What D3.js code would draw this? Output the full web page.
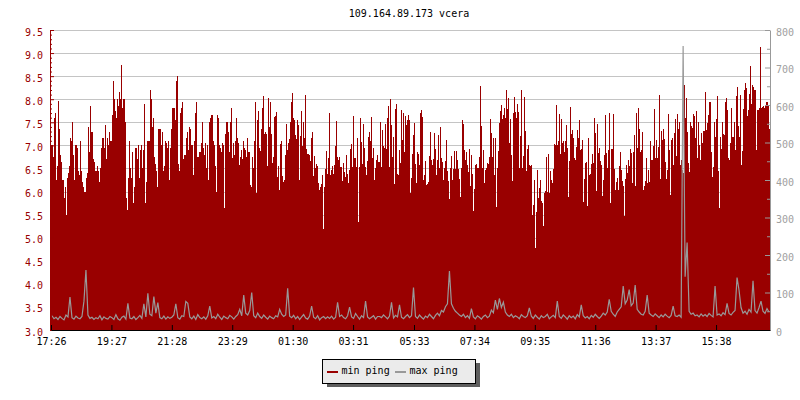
<!DOCTYPE html>
<html>
<head>
<meta charset="utf-8">
<script src="https://cdn.jsdelivr.net/npm/d3@7"></script>
<style>
  html, body { margin: 0; padding: 0; background: #fff; }
  svg { display: block; }
  text { font-family: "DejaVu Sans Mono", monospace; font-size: 10px; }
</style>
</head>
<body>
<svg id="chart" width="800" height="400"></svg>
<script>
const title = "109.164.89.173 vcera";
const seriesNames = ["min ping", "max ping"];
const timeLabels = ["17:26","19:27","21:28","23:29","01:30","03:31","05:33","07:34","09:35","11:36","13:37","15:38"];
const leftTicks = [3.0,3.5,4.0,4.5,5.0,5.5,6.0,6.5,7.0,7.5,8.0,8.5,9.0,9.5];
const rightTicks = [0,100,200,300,400,500,600,700,800];

// min ping (left axis), one value per 2 minutes from 17:26
const minPing = [
7.0,7.0,6.75,7.6,7.7,6.25,6.55,7.97,7.35,6.8,6.65,6.25,6.25,5.85,6.1,5.5,6.3,6.4,6.55,7.15,
7.1,7.5,6.8,6.25,7.0,7.0,6.95,6.45,6.35,7.1,6.45,6.2,6.1,6.0,6.0,6.3,6.4,7.4,6.85,7.85,
7.3,7.3,6.7,6.65,6.45,6.45,6.55,6.45,6.2,6.5,6.95,7.15,7.15,6.95,7.45,6.7,7.15,7.0,7.3,7.1,
7.1,7.65,8.4,8.0,7.75,7.6,8.0,7.85,8.15,8.0,8.75,7.8,8.0,8.0,7.5,5.85,5.6,6.3,7.1,6.5,
6.3,6.85,5.75,6.1,6.95,6.95,6.7,7.0,6.3,6.9,7.0,6.5,6.9,7.9,5.75,6.2,7.1,7.1,7.1,8.2,
8.0,7.4,7.6,6.75,6.6,6.45,6.1,7.35,7.35,7.35,7.0,7.3,6.45,6.55,7.1,7.05,6.95,7.1,6.25,6.95,
7.35,7.8,7.8,7.8,7.55,8.4,8.5,6.6,6.45,7.7,7.8,7.95,6.7,6.8,6.8,7.15,7.3,6.9,7.4,7.35,
7.0,7.0,6.35,7.1,7.7,7.95,6.75,6.75,6.85,6.85,7.05,7.5,6.95,6.8,7.05,6.5,7.0,6.25,7.5,7.6,
7.65,7.65,7.1,7.0,6.55,6.0,7.65,7.6,7.0,6.95,6.85,7.05,7.0,5.65,7.25,7.5,7.5,7.3,6.85,7.5,
7.8,6.73,7.05,6.8,7.1,7.6,7.15,7.05,6.57,6.75,6.9,6.7,7.1,6.95,6.9,6.75,7.15,6.85,6.85,6.15,
6.1,6.75,6.5,7.1,7.95,5.97,7.55,7.75,6.95,6.87,7.35,7.8,8.07,7.25,7.3,7.25,6.55,8.03,7.4,7.93,
7.25,6.62,6.75,7.62,7.64,7.72,6.32,6.55,6.03,7.02,7.09,6.33,6.21,6.25,6.8,7.47,6.9,7.05,7.13,7.5,
7.93,8.14,7.6,7.55,7.22,7.14,7.55,7.44,6.25,7.2,7.74,6.98,7.5,7.16,8.09,6.92,6.82,6.81,6.8,6.67,
7.15,7.3,6.33,6.77,6.52,6.6,6.55,6.19,6.03,6.09,6.17,6.35,5.19,6.1,6.48,6.87,6.38,6.72,7.71,6.36,
6.46,6.55,6.38,6.58,6.99,7.52,6.75,6.68,6.75,6.54,6.54,6.23,6.61,6.43,6.31,6.79,6.39,6.19,6.46,6.93,
7.04,6.54,7.63,6.73,6.72,6.54,7.16,5.34,6.54,7.6,7.08,6.59,7.47,6.95,6.54,6.35,6.67,7.18,7.29,7.09,
7.62,6.73,6.95,6.26,6.5,6.68,6.8,6.64,6.63,7.51,6.54,7.33,6.98,6.95,7.46,6.93,7.6,7.86,6.54,8.0,
7.44,6.75,7.18,6.16,7.79,7.89,6.38,6.36,6.91,6.62,7.76,7.11,7.71,6.86,7.63,7.44,7.55,7.66,7.55,
5.97,6.3,6.81,7.22,7.49,6.59,6.18,6.85,6.81,6.57,7.71,7.76,7.62,6.25,6.36,6.67,6.14,6.16,6.21,6.77,
7.3,6.68,6.57,6.7,7.26,6.92,6.36,6.68,7.22,6.51,7.39,6.73,6.64,6.25,6.52,6.66,7.11,6.44,6.22,5.84,
6.5,6.77,6.25,6.49,6.87,6.49,6.87,6.68,6.49,6.28,5.89,6.5,7.56,7.46,6.9,6.69,6.85,6.57,6.43,6.92,
6.12,6.8,6.39,5.58,6.05,6.57,6.59,6.5,6.51,6.74,8.28,7.42,6.5,6.9,6.19,6.46,6.52,6.61,6.59,6.74,
7.58,7.27,6.74,7.15,6.36,7.17,5.67,6.5,6.87,7.49,7.74,7.87,7.58,7.66,7.82,7.6,8.2,7.78,8.02,7.06,
7.57,6.79,6.23,7.71,8.05,7.73,7.6,7.89,7.73,6.52,7.2,8.2,6.51,6.77,8.05,7.32,6.44,6.93,7.0,6.57,
6.55,6.57,5.49,5.71,6.25,4.77,5.56,6.46,5.85,6.07,6.26,5.79,5.76,5.26,5.96,6.01,6.75,6.0,6.82,5.97,
6.44,6.25,6.18,6.48,7.04,7.0,7.87,7.0,7.09,7.69,6.81,7.58,7.06,7.09,6.86,7.09,7.44,6.95,5.89,6.67,
7.84,7.24,7.34,7.15,6.72,6.68,6.97,7.33,7.17,7.56,6.91,6.93,7.11,5.78,6.28,6.62,6.64,5.68,7.17,6.36,
6.38,6.6,6.81,6.61,7.59,7.26,6.01,7.46,6.84,6.94,6.66,6.58,5.91,6.25,6.79,7.66,6.83,6.52,6.9,7.71,
5.76,6.92,6.92,7.67,6.49,6.03,6.2,6.3,6.03,6.55,6.85,6.47,6.23,6.11,5.48,6.27,6.58,6.41,6.68,6.56,
6.92,6.84,6.19,6.85,7.23,6.12,7.71,6.94,7.82,7.36,6.86,6.9,7.28,6.03,6.11,6.23,6.73,6.19,6.47,6.21,
7.1,6.68,6.68,6.99,7.79,6.73,7.12,6.73,6.96,8.09,6.27,7.31,7.12,7.35,7.13,6.63,6.27,6.47,7.68,6.9,
5.93,7.12,7.15,6.58,7.26,7.57,6.77,7.67,7.35,7.51,6.58,6.68,6.47,6.4,8.31,7.59,8.03,7.3,6.61,6.43,
7.5,7.41,7.37,7.68,7.64,7.17,7.75,6.73,7.51,7.01,6.68,7.26,7.05,7.31,7.31,8.16,7.33,7.48,7.66,7.93,
7.93,6.86,6.32,6.54,7.51,7.19,7.57,8.06,6.45,5.65,7.18,6.92,7.51,7.25,7.23,7.93,8.02,7.77,6.72,6.68,
7.05,7.82,7.19,7.19,7.51,6.9,8.06,8.26,7.41,7.19,8.09,6.58,6.88,7.79,8.2,8.36,8.24,7.64,7.77,8.11,
8.72,7.9,8.31,8.26,8.2,8.2,6.9,7.77,7.77,7.8,9.14,7.8,7.84,7.85,7.82,7.88,7.95,7.95,7.88,7.35
];

// max ping (right axis), one value per 4 minutes from 17:26
const maxPing = [
38,30,34,28,36,31,27,40,35,88,33,29,37,32,30,36,77,160,40,31,
34,28,33,30,38,27,35,31,29,36,33,28,41,30,26,34,37,29,71,32,
30,36,28,33,39,31,70,35,98,42,38,89,45,73,33,30,37,29,35,31,
34,40,70,33,29,38,36,76,71,35,30,37,28,41,33,30,35,29,38,64,
32,36,30,42,34,28,37,33,30,39,35,29,36,41,55,38,93,45,40,52,
100,38,33,45,36,31,40,34,29,37,33,30,38,35,55,42,36,40,111,37,
33,39,30,36,28,35,41,32,29,37,64,34,30,38,27,33,36,30,35,31,
37,29,34,74,36,40,33,30,38,61,35,31,44,36,29,38,33,77,35,30,
34,38,29,36,36,33,40,35,30,37,74,32,39,35,67,34,30,36,41,33,
38,113,36,31,40,34,29,37,33,42,36,30,39,45,38,52,48,62,70,157,
70,58,50,45,40,36,42,33,38,31,57,35,30,38,34,29,36,40,33,37,
53,46,80,55,84,60,74,48,40,36,42,33,38,35,30,41,36,33,38,59,
37,31,40,34,29,38,33,36,42,30,35,39,33,77,36,31,40,35,29,38,
33,37,30,41,35,67,38,32,36,30,39,34,42,36,31,37,45,40,48,82,
50,42,36,48,55,62,117,70,80,108,65,72,120,55,48,42,40,50,93,45,
40,36,43,38,33,40,35,42,37,33,39,64,38,36,40,34,757,142,233,50,
42,45,38,40,35,43,37,41,36,44,39,35,117,40,43,38,46,41,71,44,
40,47,52,140,106,60,45,50,42,55,48,131,52,45,60,77,50,44,57,48
];

const colors = { min: "#990000", max: "#999999", grid: "#c4c4c4" };

const svg = d3.select("#chart");
const L = 51, R = 770, T = 30, B = 330;

const parse = d3.timeParse("%H:%M");
const start = parse(timeLabels[0]);
const DAY = 24 * 3600 * 1000;
const end = new Date(+start + DAY);
const tickTimes = timeLabels.map(s => {
  const d = parse(s);
  return d < start ? new Date(+d + DAY) : d;
});

const x = d3.scaleTime().domain([start, end]).range([L, R]);
const y = d3.scaleLinear().domain([3, 9.5]).range([B, T]);
const y2 = d3.scaleLinear().domain([0, 800]).range([B, T]);

function toSeries(vals, closeEnd) {
  const step = DAY / vals.length;
  const pts = vals.map((v, i) => ({ t: new Date(+start + (i + (closeEnd ? 0 : 0.5)) * step), v }));
  if (closeEnd) pts.push({ t: end, v: vals[vals.length - 1] });
  return pts;
}
const minSeries = toSeries(minPing, true);
const maxSeries = toSeries(maxPing, false);

// grid
svg.append("g").selectAll("line")
  .data(leftTicks.filter(v => v > 3))
  .join("line")
  .attr("x1", L).attr("x2", R)
  .attr("y1", d => Math.round(y(d)) + 0.5).attr("y2", d => Math.round(y(d)) + 0.5)
  .attr("stroke", colors.grid).attr("stroke-width", 1);

// min ping area
svg.append("path")
  .datum(minSeries)
  .attr("fill", colors.min)
  .attr("shape-rendering", "crispEdges")
  .attr("d", d3.area().curve(d3.curveStepAfter)
    .x(d => x(d.t)).y0(B).y1(d => y(d.v)));

// max ping line
svg.append("path")
  .datum(maxSeries)
  .attr("fill", "none")
  .attr("stroke", colors.max)
  .attr("stroke-width", 1.2)
  .attr("stroke-linejoin", "miter")
  .attr("d", d3.line()
    .x(d => x(d.t)).y(d => y2(d.v)));

// left axis
const minorLeft = d3.range(30, 96).map(v => v / 10).filter(v => Math.round(v * 10) % 5 !== 0);
const gLm = svg.append("g").attr("transform", `translate(${L - 1},0)`)
  .call(d3.axisLeft(y).tickValues(minorLeft).tickSize(-2).tickFormat(""));
gLm.select(".domain").remove();
gLm.selectAll("line").attr("stroke", colors.min);
const gL = svg.append("g").attr("transform", `translate(${L - 1},0)`)
  .call(d3.axisLeft(y).tickValues(leftTicks).tickSize(-4).tickSizeOuter(0).tickPadding(7).tickFormat(d3.format(".1f")));
gL.attr("font-family", null).attr("font-size", null);
gL.select(".domain").attr("stroke", colors.min);
gL.selectAll("line").attr("stroke", colors.min);
gL.selectAll("text").attr("fill", colors.min).attr("dy", 5);

// right axis
const minorRight = d3.range(50, 800, 100);
const gRm = svg.append("g").attr("transform", `translate(${R},0)`)
  .call(d3.axisRight(y2).tickValues(minorRight).tickSize(-3).tickFormat(""));
gRm.select(".domain").remove();
gRm.selectAll("line").attr("stroke", colors.max);
const gR = svg.append("g").attr("transform", `translate(${R},0)`)
  .call(d3.axisRight(y2).tickValues(rightTicks).tickSize(-5).tickSizeOuter(0).tickPadding(6));
gR.attr("font-family", null).attr("font-size", null);
gR.select(".domain").attr("stroke", colors.max);
gR.selectAll("line").attr("stroke", colors.max);
gR.selectAll("text").attr("fill", "#a0a0a0").attr("dy", 5);

// x axis
const gX = svg.append("g").attr("transform", `translate(0,${B})`)
  .call(d3.axisBottom(x).tickValues(tickTimes).tickSize(-5).tickSizeOuter(0)
    .tickFormat((d, i) => timeLabels[i]));
gX.attr("font-family", null).attr("font-size", null);
gX.select(".domain").attr("stroke", "#000");
gX.selectAll("line").attr("stroke", "#000");
gX.selectAll("text").attr("fill", "#000").attr("y", 15).attr("dy", 0);

// title
svg.append("text").attr("x", 409).attr("y", 17).attr("text-anchor", "middle")
  .attr("fill", "#000").text(title);

// legend
const lg = svg.append("g").attr("shape-rendering", "crispEdges");
lg.append("rect").attr("x", 327).attr("y", 363).attr("width", 153).attr("height", 24).attr("fill", "#5e5e5e");
lg.append("rect").attr("x", 322.5).attr("y", 359.5).attr("width", 153).attr("height", 24)
  .attr("fill", "#ebebeb").attr("stroke", "#000").attr("stroke-width", 1);
const items = [
  { name: seriesNames[0], color: colors.min, x: 327 },
  { name: seriesNames[1], color: colors.max, x: 395 }
];
items.forEach(it => {
  lg.append("rect").attr("x", it.x).attr("y", 371).attr("width", 11).attr("height", 2).attr("fill", it.color);
  lg.append("text").attr("x", it.x + 14.5).attr("y", 374).attr("fill", "#000").text(it.name);
});
</script>
</body>
</html>
